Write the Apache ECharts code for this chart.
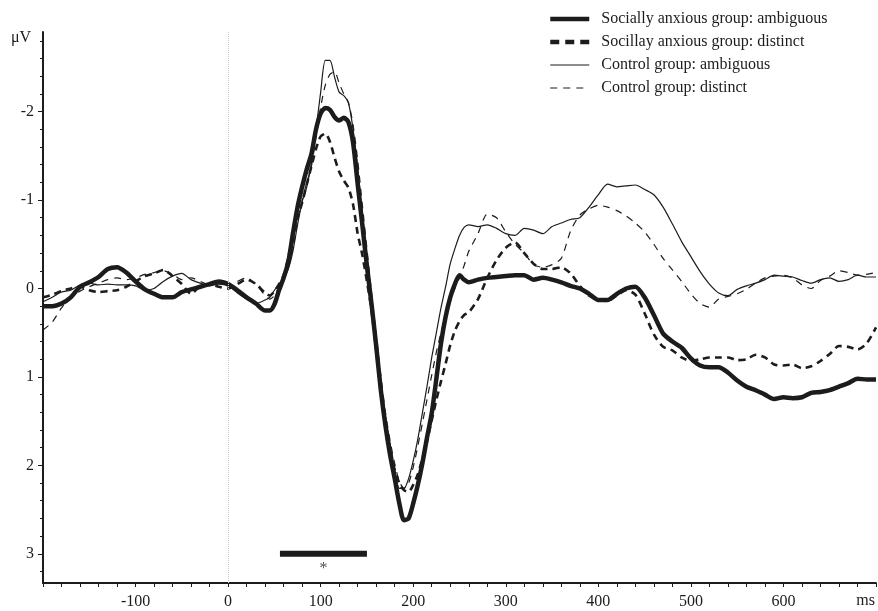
<!DOCTYPE html>
<html>
<head>
<meta charset="utf-8">
<script src="https://cdn.jsdelivr.net/npm/echarts@6/dist/echarts.min.js"></script>
<style>
  html, body { margin: 0; padding: 0; background: #fff; }
  #chart { width: 878px; height: 611px; }
</style>
</head>
<body>
<div id="chart"></div>
<script>
// time points (ms)
var times = [
  -200,-190,-180,-170,-160,-150,-140,-130,-120,-110,-100,-90,-80,-70,-60,-50,-40,-30,-20,-10,0,10,20,30,40,
  45,50,55,60,65,70,75,80,85,90,95,100,105,110,115,120,125,130,135,140,145,150,155,160,165,170,175,180,185,190,
  195,200,205,210,215,220,225,230,235,240,245,250,255,260,
  270,280,290,300,310,320,330,340,350,360,370,380,390,400,410,420,430,440,450,460,470,480,490,500,
  510,520,530,540,550,560,570,580,590,600,610,620,630,640,650,660,670,680,690,700
];

// Socially anxious group: ambiguous
var saAmb = [
  0.20,0.20,0.17,0.10,-0.02,-0.07,-0.13,-0.22,-0.24,-0.18,-0.08,0.01,0.06,0.10,0.10,0.04,0.01,-0.02,-0.05,-0.08,-0.05,0.02,0.10,0.17,0.25,
  0.25,0.18,0.02,-0.12,-0.30,-0.62,-0.92,-1.15,-1.35,-1.52,-1.80,-1.98,-2.04,-2.02,-1.94,-1.90,-1.93,-1.88,-1.65,-1.18,-0.72,-0.25,0.18,0.65,1.15,1.55,1.88,2.15,2.43,2.62,
  2.60,2.43,2.22,1.97,1.68,1.41,1.02,0.62,0.32,0.10,-0.05,-0.15,-0.10,-0.07,
  -0.10,-0.12,-0.13,-0.14,-0.15,-0.15,-0.10,-0.12,-0.10,-0.07,-0.03,0.00,0.06,0.13,0.13,0.06,0.00,-0.02,0.10,0.30,0.51,0.60,0.67,0.79,
  0.87,0.89,0.89,0.95,1.04,1.11,1.15,1.20,1.25,1.23,1.24,1.23,1.18,1.17,1.15,1.11,1.07,1.02,1.03,1.03
];

// Socially anxious group: distinct
var saDis = [
  0.10,0.07,0.03,0.00,-0.02,0.02,0.04,0.03,0.02,-0.02,-0.08,-0.14,-0.17,-0.21,-0.14,-0.05,0.06,-0.03,-0.05,-0.02,0.00,-0.05,-0.10,-0.05,0.05,
  0.08,0.03,-0.05,-0.15,-0.35,-0.58,-0.80,-0.97,-1.18,-1.38,-1.58,-1.72,-1.75,-1.66,-1.48,-1.32,-1.22,-1.14,-0.95,-0.62,-0.38,-0.08,0.25,0.70,1.15,1.50,1.80,2.05,2.20,2.28,
  2.30,2.22,2.10,1.92,1.72,1.49,1.26,1.05,0.85,0.64,0.48,0.37,0.30,0.27,
  0.12,-0.12,-0.32,-0.46,-0.52,-0.40,-0.28,-0.22,-0.22,-0.24,-0.17,-0.03,0.08,0.13,0.14,0.08,0.02,0.07,0.28,0.52,0.66,0.70,0.78,0.82,
  0.80,0.78,0.78,0.78,0.81,0.80,0.75,0.78,0.86,0.87,0.86,0.90,0.88,0.82,0.74,0.65,0.66,0.69,0.62,0.44
];

// Control group: ambiguous
var coAmb = [
  0.15,0.10,0.04,0.02,-0.04,-0.06,-0.04,-0.05,-0.04,-0.04,-0.03,0.02,0.00,-0.08,-0.14,-0.17,-0.10,-0.06,-0.03,-0.05,-0.03,0.05,0.12,0.17,0.13,
  0.10,0.02,-0.05,-0.12,-0.22,-0.42,-0.72,-0.98,-1.15,-1.42,-1.80,-2.22,-2.58,-2.58,-2.39,-2.22,-2.18,-2.10,-1.80,-1.37,-0.85,-0.36,0.15,0.62,1.05,1.45,1.78,2.05,2.26,2.26,
  2.15,1.95,1.70,1.40,1.10,0.78,0.50,0.22,-0.02,-0.28,-0.45,-0.60,-0.69,-0.72,
  -0.70,-0.72,-0.68,-0.62,-0.60,-0.68,-0.66,-0.62,-0.70,-0.74,-0.78,-0.80,-0.92,-1.06,-1.18,-1.15,-1.16,-1.17,-1.12,-1.06,-0.92,-0.73,-0.53,-0.36,
  -0.19,-0.05,0.05,0.08,0.01,-0.03,-0.06,-0.10,-0.15,-0.14,-0.13,-0.09,-0.06,-0.10,-0.12,-0.08,-0.10,-0.15,-0.13,-0.13
];

// Control group: distinct
var coDis = [
  0.47,0.38,0.22,0.10,0.03,-0.02,-0.06,-0.10,-0.12,-0.10,-0.12,-0.16,-0.18,-0.20,-0.16,-0.10,-0.12,-0.08,-0.04,-0.06,-0.03,-0.08,-0.12,-0.05,0.08,
  0.12,0.08,-0.02,-0.12,-0.25,-0.45,-0.75,-1.00,-1.20,-1.38,-1.72,-2.05,-2.30,-2.42,-2.45,-2.32,-2.20,-2.10,-1.85,-1.45,-0.95,-0.45,0.05,0.52,0.98,1.40,1.72,1.98,2.18,2.26,
  2.20,2.02,1.78,1.52,1.25,0.98,0.72,0.50,0.30,0.14,0.00,-0.12,-0.26,-0.42,
  -0.62,-0.84,-0.80,-0.64,-0.50,-0.40,-0.27,-0.24,-0.27,-0.34,-0.65,-0.83,-0.90,-0.94,-0.92,-0.88,-0.82,-0.74,-0.64,-0.50,-0.34,-0.21,-0.08,0.06,
  0.17,0.21,0.12,0.09,0.06,0.01,-0.06,-0.12,-0.14,-0.15,-0.12,-0.04,0.00,-0.09,-0.14,-0.20,-0.18,-0.15,-0.16,-0.18
];

var seriesNames = [
  'Socially anxious group: ambiguous',
  'Socillay anxious group: distinct',
  'Control group: ambiguous',
  'Control group: distinct'
];

var xLabelValues = [-100, 0, 100, 200, 300, 400, 500, 600];
var xTickValues = [];
for (var t = -200; t <= 700; t += 20) xTickValues.push(t);
var yLabelValues = [-2, -1, 0, 1, 2, 3];
var yMinorValues = [];
for (var v = -28; v <= 32; v += 2) yMinorValues.push(v / 10);

// significant window (ms) and its level
var sigWindow = [56, 150];
var sigLevel = 3;

function pairs(vals) {
  if (vals.length !== times.length) console.warn('length mismatch', vals.length, times.length);
  return times.map(function (t, i) { return [t, vals[i]]; });
}

var ink = '#1c1c1c';
var serif = 'Liberation Serif';

var myChart = echarts.init(document.getElementById('chart'));

function lineSeries(name, vals, width, type) {
  return {
    name: name,
    type: 'line',
    data: pairs(vals),
    symbol: 'none',
    smooth: 0.25,
    lineStyle: { color: ink, width: width, type: type },
    itemStyle: { color: ink },
    z: 3
  };
}

var option = {
  animation: false,
  backgroundColor: '#fff',
  grid: { left: 43, right: 2, top: 32, bottom: 28 },
  legend: {
    data: [
      { name: seriesNames[0] },
      { name: seriesNames[1], lineStyle: { width: 4.5, type: [9, 6] } },
      { name: seriesNames[2] },
      { name: seriesNames[3] }
    ],
    orient: 'vertical',
    left: 543,
    top: 6,
    itemWidth: 39,
    itemHeight: 16,
    itemGap: 7,
    itemStyle: { opacity: 0 },
    lineStyle: { width: 'inherit' },
    textStyle: { fontFamily: serif, fontSize: 16, color: ink, padding: [0, 0, 0, 7] },
    selectedMode: false
  },
  xAxis: {
    type: 'value',
    min: -200,
    max: 700,
    axisLine: { onZero: false, lineStyle: { color: ink, width: 2 } },
    axisTick: { customValues: xTickValues, length: 4, lineStyle: { color: ink, width: 1 } },
    axisLabel: { customValues: xLabelValues, fontFamily: serif, fontSize: 16, color: ink, margin: 11 },
    splitLine: { show: false }
  },
  yAxis: [
    {
      type: 'value',
      inverse: true,
      min: -2.9,
      max: 3.33,
      axisLine: { show: true, onZero: false, lineStyle: { color: ink, width: 2 } },
      axisTick: { show: true, customValues: yLabelValues, length: 5, lineStyle: { color: ink, width: 1 } },
      axisLabel: { customValues: yLabelValues, fontFamily: serif, fontSize: 16, color: ink, margin: 9 },
      splitLine: { show: false }
    },
    {
      type: 'value',
      inverse: true,
      min: -2.9,
      max: 3.33,
      position: 'left',
      axisLine: { show: false, onZero: false },
      axisTick: { show: true, customValues: yMinorValues, length: 3, lineStyle: { color: ink, width: 1 } },
      axisLabel: { show: false },
      splitLine: { show: false }
    }
  ],
  graphic: [
    { type: 'text', left: 11, top: 30, style: { text: 'μV', font: '16px "Liberation Serif"', fill: ink } },
    { type: 'text', right: 3, top: 593, style: { text: 'ms', font: '16px "Liberation Serif"', fill: ink } }
  ],
  series: [
    lineSeries(seriesNames[0], saAmb, 4.5, 'solid'),
    lineSeries(seriesNames[1], saDis, 2.6, [7, 5]),
    lineSeries(seriesNames[2], coAmb, 1.2, 'solid'),
    lineSeries(seriesNames[3], coDis, 1.2, [7, 6]),
    {
      name: 'significance',
      type: 'line',
      data: [[sigWindow[0], sigLevel], [sigWindow[1], sigLevel]],
      symbol: 'none',
      lineStyle: { color: ink, width: 6 },
      z: 2,
      markLine: {
        silent: true,
        symbol: 'none',
        label: { show: false },
        lineStyle: { color: '#c8c8c8', type: 'dotted', width: 1 },
        data: [{ xAxis: 0 }]
      }
    },
    {
      name: 'star',
      type: 'scatter',
      data: [[(sigWindow[0] + sigWindow[1]) / 2, 3.17]],
      symbolSize: 1,
      itemStyle: { color: 'rgba(0,0,0,0)' },
      label: { show: true, formatter: '*', position: 'inside', fontFamily: serif, fontSize: 16, color: ink }
    }
  ]
};
myChart.setOption(option);
window.addEventListener('resize', function () {
  myChart.resize();
});
</script>
</body>
</html>
